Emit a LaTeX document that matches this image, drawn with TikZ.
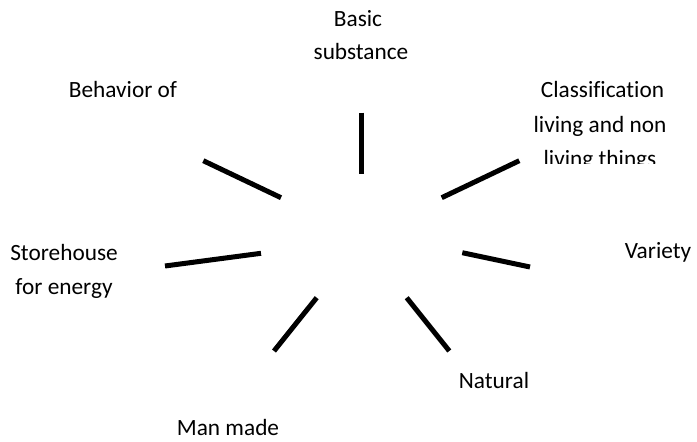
\documentclass[tikz,border=0pt]{standalone}
\usepackage{fontspec}
\setmainfont{Carlito}[Ligatures=NoCommon]
\begin{document}
\begin{tikzpicture}[x=1pt,y=-1pt,
  lbl/.style={inner sep=0pt,anchor=base,font=\fontsize{23.3}{28}\selectfont},
  spoke/.style={line width=5pt,line cap=butt}]
\useasboundingbox[fill=white] (0,0) rectangle (697,442);
% labels
\node[lbl] (basic1) at (358,26.7) {Basic};
\node[lbl] (basic2) at (361,59) {substance};
\node[lbl] (class1) at (602.5,97.3) {Classification};
\node[lbl] (class2) at (600,132.3) {living and non};
\begin{scope}
\clip (500,100) rectangle (697,163.5);
\node[lbl] (class3) at (600,166) {living things};
\end{scope}
\node[lbl] (behav) at (123,97) {Behavior of};
\node[lbl] (store1) at (64,260.7) {Storehouse};
\node[lbl] (store2) at (64,294) {for energy};
\node[lbl] (variety) at (658,258) {Variety};
\node[lbl] (natural) at (494,388) {Natural};
\node[lbl] (manmade) at (228,435) {Man made};
% spokes
\coordinate (t1) at (361.7,112.7); \coordinate (t2) at (361.7,174);
\coordinate (ur1) at (441.7,197.7); \coordinate (ur2) at (519.3,160.7);
\coordinate (r1) at (462.3,252.7); \coordinate (r2) at (530,267);
\coordinate (lr1) at (406.7,297.7); \coordinate (lr2) at (449.3,351);
\coordinate (ll1) at (316.7,297.7); \coordinate (ll2) at (274,351);
\coordinate (l1) at (165,266); \coordinate (l2) at (261,253.3);
\coordinate (ul1) at (203.3,160.7); \coordinate (ul2) at (281,197.7);
\draw[spoke] (t1) -- (t2);
\draw[spoke] (ur1) -- (ur2);
\draw[spoke] (r1) -- (r2);
\draw[spoke] (lr1) -- (lr2);
\draw[spoke] (ll1) -- (ll2);
\draw[spoke] (l1) -- (l2);
\draw[spoke] (ul1) -- (ul2);
\end{tikzpicture}
\end{document}
